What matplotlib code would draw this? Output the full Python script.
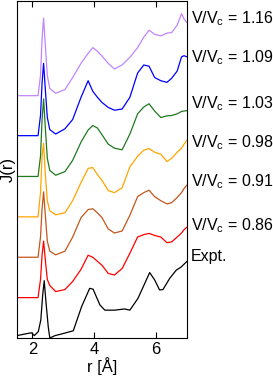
import matplotlib
matplotlib.use("Agg")
import matplotlib.pyplot as plt

plt.rcParams['font.family'] = ['Liberation Sans', 'DejaVu Sans']
plt.rcParams['mathtext.fontset'] = 'custom'
plt.rcParams['mathtext.rm'] = 'Liberation Sans'
plt.rcParams['mathtext.it'] = 'Liberation Sans'
plt.rcParams['mathtext.default'] = 'regular'

# r grid shared by the simulated curves
r_sim = [1.5, 2.18, 2.26, 2.31, 2.36, 2.42, 2.48, 2.56, 2.75, 3.05, 3.3, 3.57, 3.8, 3.95,
         4.1, 4.25, 4.45, 4.65, 4.9, 5.15, 5.4, 5.6, 5.77, 5.95, 6.15, 6.35, 6.5, 6.68,
         6.82, 6.9, 7.0]

j_086 = [0, 0, 0.45, 1.05, 1.40, 0.9, 0.45, 0.3, 0.15, 0.2, 0.4, 0.7, 1.05, 1.0, 0.9,
         0.8, 0.6, 0.56, 0.72, 1.1, 1.5, 1.56, 1.59, 1.54, 1.5, 1.36, 1.38, 1.5, 1.6, 1.68, 1.75]
j_091 = [0, 0, 0.5, 1.2, 1.62, 1.0, 0.4, 0.15, 0.06, 0.15, 0.5, 0.98, 1.18, 1.2, 1.1,
         0.98, 0.7, 0.6, 0.65, 1.04, 1.5, 1.6, 1.66, 1.5, 1.4, 1.32, 1.35, 1.48, 1.6, 1.7, 1.79]
j_098 = [0, 0, 0.6, 1.5, 1.82, 1.0, 0.4, 0.15, 0.05, 0.1, 0.4, 0.85, 1.2, 1.22, 1.05,
         0.9, 0.65, 0.6, 0.72, 1.24, 1.5, 1.65, 1.69, 1.6, 1.55, 1.37, 1.45, 1.6, 1.7, 1.8, 1.9]
j_103 = [0, 0, 0.5, 1.4, 1.92, 1.15, 0.45, 0.15, 0.03, 0.12, 0.4, 0.85, 1.15, 1.26, 1.2,
         1.03, 0.8, 0.7, 0.66, 1.05, 1.55, 1.72, 1.8, 1.62, 1.46, 1.5, 1.51, 1.55, 1.61, 1.62, 1.63]
j_109 = [0, 0, 0.5, 1.3, 1.79, 1.1, 0.45, 0.15, 0.04, 0.17, 0.4, 0.95, 1.36, 1.1, 0.95,
         0.82, 0.7, 0.63, 0.66, 0.95, 1.55, 1.75, 1.72, 1.44, 1.36, 1.32, 1.42, 1.6, 1.95, 1.98, 1.95]
j_116 = [0, 0, 0.5, 1.4, 1.92, 1.2, 0.5, 0.18, 0.06, 0.15, 0.45, 0.8, 1.05, 1.19, 1.1,
         0.98, 0.8, 0.66, 0.76, 0.95, 1.19, 1.45, 1.62, 1.52, 1.48, 1.55, 1.56, 1.75, 2.03, 1.9, 1.81]

# experiment
r_exp = [1.5, 1.76, 1.97, 2.06, 2.19, 2.27, 2.33, 2.38, 2.44, 2.51, 2.56, 2.73, 2.94, 3.32,
         3.59, 3.85, 3.96, 4.18, 4.34, 4.66, 4.98, 5.15, 5.41, 5.63, 5.79, 5.95, 6.11, 6.22,
         6.44, 6.65, 6.81, 7.0]
j_exp = [0, 0.04, 0.07, 0, 0.1, 0.39, 1.0, 1.36, 0.8, 0.22, -0.06, 0, 0.04, 0.12, 0.72,
         1.17, 1.15, 0.76, 0.63, 0.63, 0.66, 0.63, 0.92, 1.29, 1.56, 1.38, 1.13, 1.14, 1.42,
         1.62, 1.70, 1.84]

labels = ['Expt.', 'V/V$_c$ = 0.86', 'V/V$_c$ = 0.91', 'V/V$_c$ = 0.98',
          'V/V$_c$ = 1.03', 'V/V$_c$ = 1.09', 'V/V$_c$ = 1.16']
offsets = [0, 0.94, 1.94, 2.94, 3.94, 4.95, 5.94]
label_y = [1.97, 2.73, 3.80, 4.78, 5.75, 6.88, 7.84]
colors = ['black', '#ff0000', '#c4561c', '#ffa500', '#1f7a1f', '#0000ff', '#c285ff']

series = [j_exp, j_086, j_091, j_098, j_103, j_109, j_116]

fig = plt.figure(figsize=(2.73, 3.76), dpi=100)
ax = fig.add_axes([0.0623, 0.101, 0.623, 0.897])

for i in range(len(series)):
    if i == 0:
        rr = r_exp
    else:
        rr = r_sim
    yy = [v + offsets[i] for v in series[i]]
    ax.plot(rr, yy, color=colors[i], lw=0.9)
    ax.text(1.024, label_y[i], labels[i], transform=ax.get_yaxis_transform(),
            fontsize=11.5, va='center', ha='left')

ax.set_xlim(1.5, 7)
ax.set_ylim(-0.06, 8.29)
ax.set_xticks([2, 4, 6])
ax.set_yticks([])
ax.tick_params(direction='in', top=True, length=4, labelsize=12, pad=3)
ax.set_xlabel('r [Å]', fontsize=12, labelpad=0)
ax.set_ylabel('J(r)', fontsize=12, labelpad=1)

fig.savefig('out.png', dpi=100)
